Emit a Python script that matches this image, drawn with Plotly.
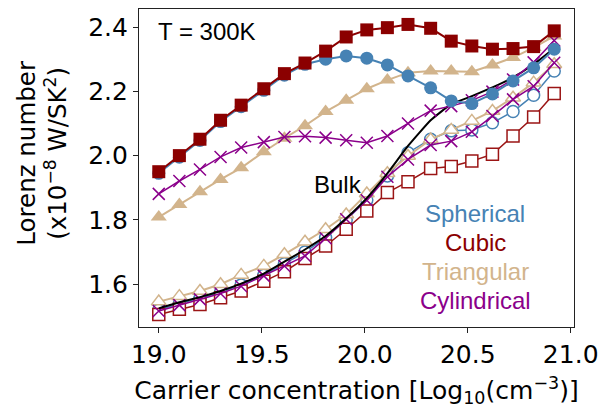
import plotly.graph_objects as go

x = [19.00, 19.10, 19.20, 19.30, 19.40, 19.51, 19.61, 19.71, 19.81, 19.91,
     20.01, 20.11, 20.21, 20.32, 20.42, 20.52, 20.62, 20.72, 20.82, 20.92]

sph_filled = [1.945, 1.995, 2.047, 2.106, 2.152, 2.203, 2.250, 2.284, 2.300, 2.310,
              2.303, 2.282, 2.248, 2.211, 2.170, 2.162, 2.192, 2.232, 2.273, 2.331]
cub_filled = [1.950, 2.000, 2.051, 2.110, 2.157, 2.208, 2.255, 2.288, 2.325, 2.369,
              2.391, 2.398, 2.408, 2.396, 2.356, 2.341, 2.331, 2.333, 2.339, 2.388]
tri_filled = [1.809, 1.848, 1.888, 1.926, 1.962, 2.012, 2.054, 2.093, 2.137, 2.172,
              2.208, 2.235, 2.258, 2.263, 2.263, 2.261, 2.282, 2.305, 2.336, 2.372]
cyl_filled = [1.881, 1.921, 1.957, 1.996, 2.025, 2.042, 2.058, 2.060, 2.056, 2.048,
              2.040, 2.061, 2.100, 2.140, 2.154, 2.172, 2.199, 2.237, 2.290, 2.358]

bulk = [1.525, 1.544, 1.560, 1.579, 1.602, 1.633, 1.670, 1.708, 1.750, 1.805,
        1.868, 1.945, 2.030, 2.110, 2.160, 2.185, 2.212, 2.243, 2.284, 2.334]

sph_open = [1.520, 1.540, 1.556, 1.575, 1.598, 1.628, 1.664, 1.700, 1.745, 1.800,
            1.862, 1.937, 2.009, 2.051, 2.077, 2.080, 2.102, 2.137, 2.188, 2.263]
cub_open = [1.506, 1.522, 1.537, 1.558, 1.579, 1.609, 1.639, 1.680, 1.719, 1.771,
            1.828, 1.885, 1.919, 1.960, 1.966, 1.983, 2.004, 2.061, 2.120, 2.193]
tri_open = [1.546, 1.563, 1.579, 1.600, 1.629, 1.657, 1.693, 1.732, 1.771, 1.817,
            1.882, 1.945, 1.999, 2.050, 2.080, 2.108, 2.139, 2.180, 2.227, 2.284]
cyl_open = [1.517, 1.535, 1.553, 1.571, 1.594, 1.626, 1.657, 1.688, 1.743, 1.802,
            1.861, 1.934, 1.988, 2.033, 2.045, 2.074, 2.123, 2.175, 2.216, 2.289]

x_ticks = [19.0, 19.5, 20.0, 20.5, 21.0]
y_ticks = [1.6, 1.8, 2.0, 2.2, 2.4]

BLUE = "#4682B4"
RED = "#8B0000"
TAN = "#D2B48C"
PURP = "#8B008B"

fig = go.Figure()

def add(y, color, symbol, filled, size=12, lw=2):
    if symbol == "x-thin":
        marker = dict(symbol="x-thin", size=size, color=color,
                      line=dict(color=color, width=1.5))
    elif filled:
        marker = dict(symbol=symbol, size=size, color=color,
                      line=dict(color=color, width=0))
    else:
        marker = dict(symbol=symbol, size=size - 1, color="white",
                      line=dict(color=color, width=1.5))
    fig.add_trace(go.Scatter(x=x, y=y, mode="lines+markers",
                             line=dict(color=color, width=lw),
                             marker=marker, showlegend=False))

# open markers
add(sph_open, BLUE, "circle", False, 13, 1.5)
add(tri_open, TAN, "triangle-up", False, 14, 2)
add(cub_open, "#9B1515", "square", False, 13, 1.5)
add(cyl_open, PURP, "x-thin", False, 12, 1.5)

fig.add_trace(go.Scatter(x=x, y=bulk, mode="lines",
                         line=dict(color="black", width=2, shape="spline", smoothing=0.4),
                         showlegend=False))

# filled markers
add(tri_filled, TAN, "triangle-up", True, 14, 2)
add(cyl_filled, PURP, "x-thin", True, 12, 1.5)
add(sph_filled, BLUE, "circle", True, 13, 2)
add(cub_filled, RED, "square", True, 13, 2)

ann_font = "Liberation Sans, Arial, sans-serif"
fig.add_annotation(x=0.04, y=0.93, xref="paper", yref="paper", text="T = 300K",
                   showarrow=False, xanchor="left", yanchor="middle",
                   font=dict(family=ann_font, size=24, color="black"))
fig.add_annotation(x=19.87, y=1.91, text="Bulk", showarrow=False,
                   xanchor="center", yanchor="middle",
                   font=dict(family=ann_font, size=24, color="black"))
labels = [("Spherical", BLUE, 213), ("Cubic", RED, 242),
          ("Triangular", TAN, 271), ("Cylindrical", PURP, 300)]
for txt, col, py in labels:
    fig.add_annotation(x=(479 - 139) / 440, y=1 - (py - 8) / 319, xref="paper", yref="paper",
                       text=txt, showarrow=False, xanchor="center", yanchor="middle",
                       font=dict(family=ann_font, size=24, color=col))

fig.add_annotation(x=(41 - 139) / 440, y=1 - (152 - 8) / 319, xref="paper", yref="paper",
                   text="Lorenz number<br>(x10<sup>\u22128</sup> W/SK<sup>2</sup>)",
                   textangle=-90, showarrow=False, xanchor="center", yanchor="middle",
                   font=dict(family="DejaVu Sans", size=24.5, color="black"))

axis_common = dict(showline=True, mirror=True, linecolor="#222", linewidth=1.2,
                   ticks="outside", ticklen=5, tickwidth=1.2, tickcolor="#222",
                   showgrid=False, zeroline=False,
                   tickfont=dict(family="DejaVu Sans", size=25, color="black"))

fig.update_layout(
    width=607, height=411,
    margin=dict(l=139, r=28, t=8, b=84),
    paper_bgcolor="white", plot_bgcolor="white",
    xaxis=dict(range=[18.904, 21.016], tickvals=x_ticks,
               ticktext=[f"{v:.1f}" for v in x_ticks],
               title=dict(text="Carrier concentration [Log<sub>10</sub>(cm<sup>\u22123</sup>)]",
                          font=dict(family="DejaVu Sans", size=25, color="black"), standoff=13),
               **axis_common),
    yaxis=dict(range=[1.467, 2.456], tickvals=y_ticks,
               ticktext=[f"{v:.1f}" for v in y_ticks], **axis_common),
)

fig.write_html("out.html")
